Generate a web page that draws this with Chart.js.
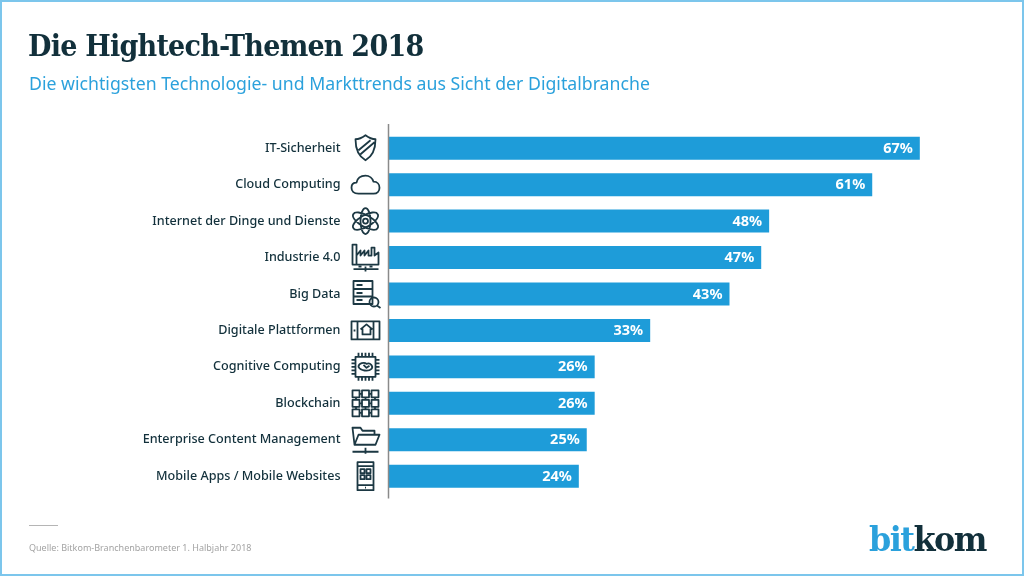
<!DOCTYPE html>
<html lang="de"><head><meta charset="utf-8">
<style>
html,body{margin:0;padding:0;background:#fff;}
#wrap{position:relative;width:1024px;height:576px;overflow:hidden;background:#fff;}
#wrap canvas{position:absolute;left:0;top:0;}
.t{position:absolute;white-space:nowrap;z-index:2;transform-origin:0 50%;}
#frame{position:absolute;left:0;top:0;width:1020px;height:572px;border:2px solid #7cc6ec;z-index:3;}
#title{left:28px;top:28px;font:bold 30px "DejaVu Serif";color:#12303b;letter-spacing:-.85px;transform:scaleX(.9);}
#sub{left:29px;top:71px;font:18.2px "Noto Sans";color:#2ba1dc;transform:scaleX(.973);}
#src{left:29px;top:541px;font:9.8px "Noto Sans";color:#a3a3a3;transform:scaleX(.92);}
#rule{position:absolute;left:29px;top:525px;width:29px;height:1px;background:#b5b5b5;}
#logo{left:869px;top:520px;font:bold 33px "DejaVu Serif";letter-spacing:-1.6px;color:#12303b;transform:scaleX(.965);}
#logo span{color:#2ba1dc;}
</style></head><body>
<div id="wrap">
<div id="frame"></div>
<div id="title" class="t">Die Hightech-Themen 2018</div>
<div id="sub" class="t">Die wichtigsten Technologie- und Markttrends aus Sicht der Digitalbranche</div>
<div id="rule"></div>
<div id="src" class="t">Quelle: Bitkom-Branchenbarometer 1. Halbjahr 2018</div>
<div id="logo" class="t"><span>bit</span>kom</div>
<canvas id="c" width="1024" height="576"></canvas>
</div>
<script src="https://cdn.jsdelivr.net/npm/chart.js@4"></script>
<script>
const categories = ["IT-Sicherheit","Cloud Computing","Internet der Dinge und Dienste","Industrie 4.0","Big Data","Digitale Plattformen","Cognitive Computing","Blockchain","Enterprise Content Management","Mobile Apps / Mobile Websites"];
const shares = [67,61,48,47,43,33,26,26,25,24];

// Decorative pictograms, drawn in a local box centred on each category row
const icons = [
 "M0-13C-4-10-7-9-10-9C-10 0-7 8 0 12C7 8 10 0 10-9C7-9 4-10 0-13ZM-7 2L5-8M-5 6L9-6",
 "M-7 9C-12 9-14 6-14 3C-14 0-12-2-9-2C-8-7-4-9 0-9C4-9 7-6 8-3C12-3 14 0 14 3C14 6 12 9 8 9Z",
 "M-12.100-7A14 5.500 30 1 1 12.100 7A14 5.500 30 1 1-12.100-7ZM-12.100 7A14 5.500-30 1 1 12.100-7A14 5.500-30 1 1-12.100 7ZM0-13A5 13 0 1 1 0 13A5 13 0 1 1 0-13ZM2.500 0A2.500 2.500 0 1 1-2.500 0A2.500 2.500 0 1 1 2.500 0Z",
 "M-13-13L-9-13L-9 7L-13 7ZM-9-2L-5-7L-5-2L-1-7L-1-2L3-7L3-2L6-2L6-10L9-10L9-2L13-5L13 7L-9 7M-12 11.500L13 11.500M0 9L0 14M-7 9L-4 9M4 9L7 9",
 "M-12-13L7-13L7 10L-12 10ZM-12-5L7-5M-12 2.500L7 2.500M-9-9L-3-9M-9-1L-3-1M-9 6L-3 6M13 8A4.500 4.500 0 1 1 4 8A4.500 4.500 0 1 1 13 8ZM11.500 11.500L15 14",
 "M-14-9L14-9L14 9L-14 9ZM-8-9L-8 9M8-9L8 9M-11-1L-11 1M-5-1L1-6L7-1M-3-2L-3 4L5 4L5-2",
 "M-10-10L10-10L10 10L-10 10ZM-7-10L-7-14M-3.500-10L-3.500-14M0-10L0-14M3.500-10L3.500-14M7-10L7-14M-7 10L-7 14M-3.500 10L-3.500 14M0 10L0 14M3.500 10L3.500 14M7 10L7 14M-10-7L-14-7M-10-3.500L-14-3.500M-10 0L-14 0M-10 3.500L-14 3.500M-10 7L-14 7M10-7L14-7M10-3.500L14-3.500M10 0L14 0M10 3.500L14 3.500M10 7L14 7M-7 0C-7-4-1-5 1-3C5-5 8 0 6 2C3 5-5 4-7 0ZM-2-2L1 1L4-1",
 "M-13-13h7v7h-7zM-3.500-13h7v7h-7zM6-13h7v7h-7zM-13-3.500h7v7h-7zM-3.500-3.500h7v7h-7zM6-3.500h7v7h-7zM-13 6h7v7h-7zM-3.500 6h7v7h-7zM6 6h7v7h-7zM-6-9.500h2.500M3.500-9.500h2.500M-6 0h2.500M3.500 0h2.500M-6 9.500h2.500M3.500 9.500h2.500M-9.500-6v2.500M0-6v2.500M9.500-6v2.500M-9.500 3.500v2.500M0 3.500v2.500M9.500 3.500v2.500",
 "M-11 5L-13-12L-5-12L-3-9L9-9L9-5M-11 5L-7-5L14-5L10 5ZM-13 12L13 12M0 8L0 14",
 "M-8-14L8-14L8 14L-8 14ZM-8-10L8-10M-8 9L8 9M-5-7h4v4h-4zM1-7h4v4h-4zM-5-1h4v4h-4zM1-1h4v4h-4zM-.5 11.500L.5 11.500"
];

const frills = {
  id:"frills",
  afterDatasetsDraw(chart){
    const {ctx,scales:{x,y}} = chart;
    ctx.save();
    // value labels, right-aligned inside each bar
    ctx.fillStyle="#fff"; ctx.font='bold 14.5px "Noto Sans"'; ctx.textAlign="right"; ctx.textBaseline="middle";
    shares.forEach((v,i)=>ctx.fillText(v+"%",x.getPixelForValue(v)-7,y.getPixelForValue(i)+.5));
    // pictograms
    ctx.strokeStyle="#1c3843"; ctx.lineWidth=1.8; ctx.lineJoin="round";
    icons.forEach((d,i)=>{
      ctx.save();
      ctx.translate(x.getPixelForValue(0)-23,y.getPixelForValue(i));
      ctx.stroke(new Path2D(d));
      ctx.restore();
    });
    // axis rule runs slightly past the category band
    const ax=x.getPixelForValue(0);
    ctx.strokeStyle="#8a8a8a"; ctx.lineWidth=1.5;
    ctx.beginPath(); ctx.moveTo(ax,y.top-6); ctx.lineTo(ax,y.bottom+4); ctx.stroke();
    ctx.restore();
  }
};

new Chart(document.getElementById("c"),{
  type:"bar",
  data:{labels:categories,datasets:[{data:shares,backgroundColor:"#1e9cd9",borderWidth:0,barPercentage:.63,categoryPercentage:1}]},
  plugins:[frills],
  options:{
    indexAxis:"y",responsive:false,animation:false,devicePixelRatio:1,
    layout:{padding:{left:0,right:80.4,top:130,bottom:81.6}},
    plugins:{legend:{display:false},title:{display:false},tooltip:{enabled:false}},
    scales:{
      x:{display:false,min:0,max:70},
      y:{
        afterFit(s){s.width=388.5;},
        grid:{display:false},border:{display:false},
        ticks:{color:"#12303b",padding:40,autoSkip:false,font:{family:'"Noto Sans"',size:12.6,weight:"500"}}
      }
    }
  }
});
</script>
</body></html>
